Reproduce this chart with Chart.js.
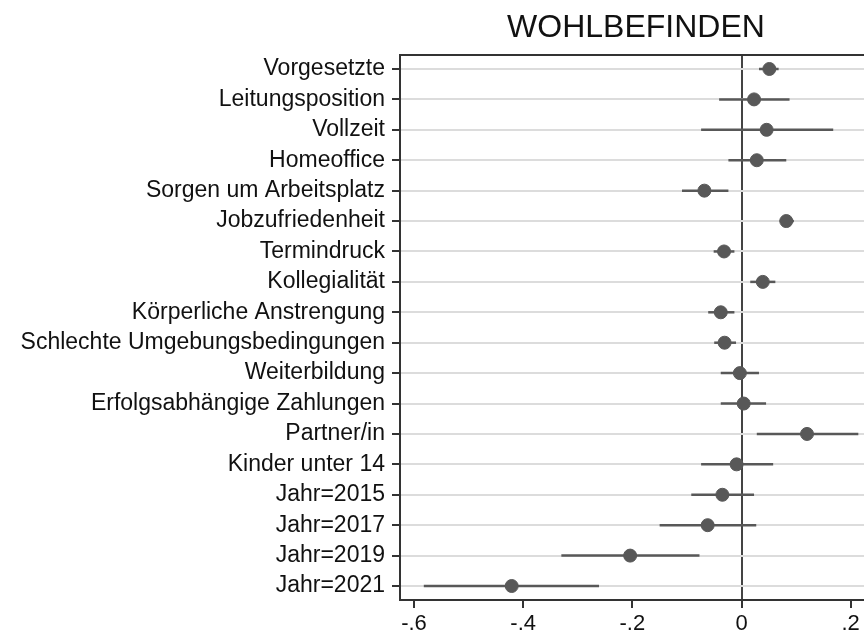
<!DOCTYPE html>
<html>
<head>
<meta charset="utf-8">
<script src="https://cdn.jsdelivr.net/npm/chart.js@4"></script>
<style>
  body { margin: 0; background: #fff; }
  #wrap { width: 864px; height: 635px; }
</style>
</head>
<body>
<div id="wrap"><canvas id="coefChart"></canvas></div>
<script>
const chartTitle = "WOHLBEFINDEN";
const categories = [
  "Vorgesetzte", "Leitungsposition", "Vollzeit", "Homeoffice",
  "Sorgen um Arbeitsplatz", "Jobzufriedenheit", "Termindruck", "Kollegialität",
  "Körperliche Anstrengung", "Schlechte Umgebungsbedingungen", "Weiterbildung",
  "Erfolgsabhängige Zahlungen", "Partner/in", "Kinder unter 14",
  "Jahr=2015", "Jahr=2017", "Jahr=2019", "Jahr=2021"
];
const estimates = [0.051, 0.023, 0.046, 0.028, -0.068, 0.082, -0.032, 0.039,
  -0.038, -0.031, -0.003, 0.004, 0.120, -0.009, -0.035, -0.062, -0.204, -0.421];
const ciLow = [0.032, -0.041, -0.074, -0.024, -0.109, 0.070, -0.051, 0.016,
  -0.061, -0.050, -0.038, -0.038, 0.028, -0.074, -0.092, -0.150, -0.330, -0.582];
const ciHigh = [0.068, 0.088, 0.168, 0.082, -0.024, 0.096, -0.013, 0.062,
  -0.013, -0.010, 0.032, 0.045, 0.214, 0.058, 0.023, 0.027, -0.077, -0.261];
const xTicks = [-0.6, -0.4, -0.2, 0, 0.2];
const xTickLabels = ["-.6", "-.4", "-.2", "0", ".2"];

const markColor = "#585858";
const fontFamily = "'Liberation Sans', Arial, Helvetica, sans-serif";

// one short line dataset per row for the confidence interval
const ciSets = categories.map((c, i) => ({
  type: "line",
  data: [{ x: ciLow[i], y: i + 1 }, { x: ciHigh[i], y: i + 1 }],
  borderColor: markColor,
  borderWidth: 2.5,
  pointRadius: 0,
  order: 2,
}));

const framePlugin = {
  id: "frame",
  afterDraw(chart) {
    const { ctx, chartArea } = chart;
    ctx.save();
    ctx.strokeStyle = "#333";
    ctx.lineWidth = 2;
    ctx.beginPath();
    ctx.moveTo(chartArea.left - 1, chartArea.top);
    ctx.lineTo(chartArea.right, chartArea.top);
    ctx.stroke();
    ctx.fillStyle = "#111";
    ctx.font = "32px " + fontFamily;
    ctx.textAlign = "center";
    ctx.textBaseline = "middle";
    ctx.fillText(chartTitle, (chartArea.left + chartArea.right) / 2 + 4, 28);
    ctx.restore();
  },
};

new Chart(document.getElementById("coefChart"), {
  type: "scatter",
  data: {
    datasets: [
      {
        data: estimates.map((v, i) => ({ x: v, y: i + 1 })),
        backgroundColor: markColor,
        borderColor: markColor,
        pointRadius: 6.5,
        pointHoverRadius: 6.5,
        order: 1,
      },
      ...ciSets,
    ],
  },
  options: {
    responsive: true,
    maintainAspectRatio: false,
    animation: false,
    layout: { autoPadding: false, padding: { top: 55, left: 0, right: 0, bottom: 0 } },
    plugins: {
      legend: { display: false },
      tooltip: { enabled: false },
      title: { display: false },
    },
    scales: {
      x: {
        type: "linear",
        min: -0.6256,
        max: 0.2244,
        afterBuildTicks: (scale) => {
          scale.ticks = xTicks.map((v) => ({ value: v }));
        },
        afterFit: (scale) => {
          scale.height = 35;
        },
        ticks: {
          autoSkip: false,
          maxRotation: 0,
          padding: 3,
          color: "#111",
          font: { family: fontFamily, size: 22 },
          callback: (v) => xTickLabels[xTicks.indexOf(v)],
        },
        grid: {
          color: (c) => (c.tick && c.tick.value === 0 ? "#444" : "rgba(0,0,0,0)"),
          lineWidth: 2,
          tickColor: "#333",
          tickLength: 8,
        },
        border: { color: "#333", width: 2 },
      },
      y: {
        type: "linear",
        reverse: true,
        min: 0.54,
        max: 18.46,
        afterBuildTicks: (scale) => {
          scale.ticks = categories.map((c, i) => ({ value: i + 1 }));
        },
        afterFit: (scale) => {
          scale.width = 400;
        },
        ticks: {
          autoSkip: false,
          padding: 7,
          color: "#111",
          font: { family: fontFamily, size: 23 },
          callback: (v) => categories[v - 1],
        },
        grid: {
          color: "#dcdcdc",
          lineWidth: 2,
          tickColor: "#333",
          tickLength: 8,
        },
        border: { color: "#333", width: 2 },
      },
    },
  },
  plugins: [framePlugin],
});
</script>
</body>
</html>
